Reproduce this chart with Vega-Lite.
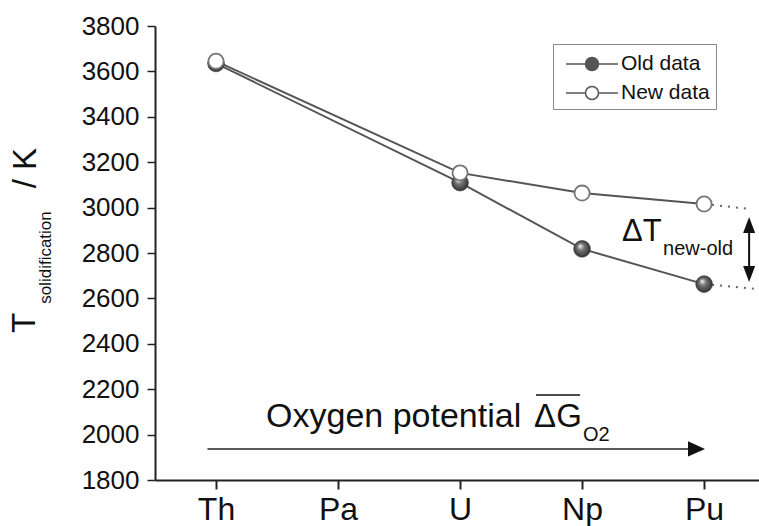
{
  "$schema": "https://vega.github.io/schema/vega-lite/v6.json",
  "width": 604,
  "height": 454,
  "autosize": {"type": "none"},
  "padding": {"left": 155, "top": 26, "right": 0, "bottom": 46},
  "background": "white",
  "config": {"view": {"stroke": null}, "font": "Liberation Sans", "text": {"font": "Liberation Sans", "color": "#111"}},
  "data": {"values": [
    {"element": "Th", "pos": 0, "series": "Old data", "T": 3635},
    {"element": "U", "pos": 2, "series": "Old data", "T": 3110},
    {"element": "Np", "pos": 3, "series": "Old data", "T": 2818},
    {"element": "Pu", "pos": 4, "series": "Old data", "T": 2663},
    {"element": "Th", "pos": 0, "series": "New data", "T": 3645},
    {"element": "U", "pos": 2, "series": "New data", "T": 3153},
    {"element": "Np", "pos": 3, "series": "New data", "T": 3064},
    {"element": "Pu", "pos": 4, "series": "New data", "T": 3016}
  ]},
  "layer": [
    {
      "data": {"values": [{"x": 4, "y": 3016, "x2": 4.377, "y2": 2994}, {"x": 4, "y": 2663, "x2": 4.45, "y2": 2641}]},
      "mark": {"type": "rule", "strokeWidth": 2, "strokeDash": [2, 6], "color": "#666"},
      "encoding": {
        "x": {"field": "x", "type": "quantitative"},
        "y": {"field": "y", "type": "quantitative"},
        "x2": {"field": "x2"},
        "y2": {"field": "y2"}
      }
    },
    {
      "mark": {"type": "line", "strokeWidth": 2},
      "encoding": {
        "x": {"field": "pos", "type": "quantitative",
          "scale": {"domain": [-0.5, 4.45], "nice": false, "zero": false},
          "axis": {"values": [0, 1, 2, 3, 4], "labelExpr": "['Th','Pa','U','Np','Pu'][datum.value]", "title": null, "grid": false,
            "domainColor": "#222", "domainWidth": 2, "tickColor": "#222", "tickWidth": 2, "tickSize": 9,
            "labelFontSize": 32, "labelColor": "#111", "labelPadding": 5, "labelFont": "Liberation Sans", "labelFlush": false, "labelOverlap": false}},
        "y": {"field": "T", "type": "quantitative",
          "scale": {"domain": [1800, 3800], "nice": false, "zero": false},
          "axis": {"values": [1800, 1900, 2000, 2100, 2200, 2300, 2400, 2500, 2600, 2700, 2800, 2900, 3000, 3100, 3200, 3300, 3400, 3500, 3600, 3700, 3800],
            "format": "d", "labelExpr": "datum.value % 200 === 0 ? datum.label : ''",
            "tickSize": {"condition": {"test": "datum.value % 200 === 0", "value": 8}, "value": 5},
            "title": null, "grid": false, "domainColor": "#222", "domainWidth": 2, "tickColor": "#222", "tickWidth": 1.5,
            "labelFontSize": 26, "labelColor": "#111", "labelPadding": 8, "labelFont": "Liberation Sans", "labelOverlap": false, "labelFlush": false}},
        "stroke": {"field": "series", "type": "nominal",
          "scale": {"domain": ["Old data", "New data"], "range": ["#555", "#555"]},
          "legend": {"title": null, "orient": "none", "legendX": 398, "legendY": 18,
            "symbolType": "M-2,0H-0.5M0.5,0H2M-0.5,0A0.5,0.5 0 1 1 0.5,0A0.5,0.5 0 1 1 -0.5,0Z",
            "symbolSize": 676, "symbolStrokeWidth": 1.5, "symbolOffset": 19,
            "labelFont": "Liberation Sans", "labelFontSize": 21, "labelColor": "#111", "labelOffset": 15,
            "padding": 6, "strokeColor": "#888", "rowPadding": 5,
            "encode": {"symbols": {"update": {
              "fill": [{"test": "datum.value === 'Old data'", "value": "#555"}, {"value": "white"}],
              "stroke": {"value": "#555"}, "opacity": {"value": 1}}}}}}
      }
    },
    {
      "transform": [{"filter": "datum.series === 'Old data'"}],
      "mark": {"type": "point", "filled": true, "size": 280, "opacity": 1, "stroke": "#333", "strokeWidth": 0.6,
        "fill": {"gradient": "radial", "x1": 0.38, "y1": 0.32, "r1": 0.02, "x2": 0.5, "y2": 0.5, "r2": 0.55,
          "stops": [{"offset": 0, "color": "#f2f2f2"}, {"offset": 0.35, "color": "#777777"}, {"offset": 1, "color": "#2a2a2a"}]}},
      "encoding": {
        "x": {"field": "pos", "type": "quantitative"},
        "y": {"field": "T", "type": "quantitative"}
      }
    },
    {
      "transform": [{"filter": "datum.series === 'New data'"}],
      "mark": {"type": "point", "filled": true, "size": 230, "opacity": 1, "fill": "white", "stroke": "#777", "strokeWidth": 1.8},
      "encoding": {
        "x": {"field": "pos", "type": "quantitative"},
        "y": {"field": "T", "type": "quantitative"}
      }
    },
    {
      "data": {"values": [{}]},
      "mark": {"type": "text", "text": "ΔT", "fontSize": 31, "align": "left", "baseline": "alphabetic"},
      "encoding": {"x": {"datum": 3.328, "type": "quantitative"}, "y": {"datum": 2853, "type": "quantitative"}}
    },
    {
      "data": {"values": [{}]},
      "mark": {"type": "text", "text": "new-old", "fontSize": 20, "align": "left", "baseline": "alphabetic"},
      "encoding": {"x": {"datum": 3.664, "type": "quantitative"}, "y": {"datum": 2791, "type": "quantitative"}}
    },
    {
      "data": {"values": [{}]},
      "mark": {"type": "rule", "strokeWidth": 2, "color": "#111"},
      "encoding": {"x": {"datum": 4.369, "type": "quantitative"}, "y": {"datum": 2923, "type": "quantitative"}, "y2": {"datum": 2707}}
    },
    {
      "data": {"values": [{"y": 2923, "dir": "up"}, {"y": 2707, "dir": "down"}]},
      "mark": {"type": "point", "filled": true, "size": 256, "color": "#111", "opacity": 1},
      "encoding": {
        "x": {"datum": 4.369, "type": "quantitative"},
        "y": {"field": "y", "type": "quantitative"},
        "shape": {"field": "dir", "type": "nominal", "scale": {"domain": ["up", "down"], "range": ["M0,-1L0.75,1L-0.75,1Z", "M0,1L0.75,-1L-0.75,-1Z"]}, "legend": null}
      }
    },
    {
      "data": {"values": [{}]},
      "mark": {"type": "text", "text": "Oxygen potential", "fontSize": 34, "align": "left", "baseline": "alphabetic"},
      "encoding": {"x": {"datum": 0.41, "type": "quantitative"}, "y": {"datum": 2034, "type": "quantitative"}}
    },
    {
      "data": {"values": [{}]},
      "mark": {"type": "text", "text": "ΔG", "fontSize": 33, "align": "left", "baseline": "alphabetic"},
      "encoding": {"x": {"datum": 2.607, "type": "quantitative"}, "y": {"datum": 2034, "type": "quantitative"}}
    },
    {
      "data": {"values": [{}]},
      "mark": {"type": "text", "text": "O2", "fontSize": 20, "align": "left", "baseline": "alphabetic"},
      "encoding": {"x": {"datum": 3.008, "type": "quantitative"}, "y": {"datum": 1972, "type": "quantitative"}}
    },
    {
      "data": {"values": [{}]},
      "mark": {"type": "rule", "strokeWidth": 1.5, "color": "#111"},
      "encoding": {"x": {"datum": 2.623, "type": "quantitative"}, "x2": {"datum": 2.984}, "y": {"datum": 2174, "type": "quantitative"}}
    },
    {
      "data": {"values": [{}]},
      "mark": {"type": "rule", "strokeWidth": 1.5, "color": "#222"},
      "encoding": {"x": {"datum": -0.07, "type": "quantitative"}, "x2": {"datum": 3.94}, "y": {"datum": 1937, "type": "quantitative"}}
    },
    {
      "data": {"values": [{}]},
      "mark": {"type": "point", "filled": true, "size": 289, "color": "#111", "opacity": 1, "shape": "M1,0L-1,-0.9L-1,0.9Z"},
      "encoding": {"x": {"datum": 3.938, "type": "quantitative"}, "y": {"datum": 1937, "type": "quantitative"}}
    },
    {
      "data": {"values": [{}]},
      "mark": {"type": "text", "text": "T", "fontSize": 33, "angle": 270, "align": "center", "baseline": "middle"},
      "encoding": {"x": {"datum": -1.566, "type": "quantitative"}, "y": {"datum": 2492, "type": "quantitative"}}
    },
    {
      "data": {"values": [{}]},
      "mark": {"type": "text", "text": "solidification", "fontSize": 17, "angle": 270, "align": "center", "baseline": "middle"},
      "encoding": {"x": {"datum": -1.393, "type": "quantitative"}, "y": {"datum": 2780, "type": "quantitative"}}
    },
    {
      "data": {"values": [{}]},
      "mark": {"type": "text", "text": "/ K", "fontSize": 33, "angle": 270, "align": "center", "baseline": "middle"},
      "encoding": {"x": {"datum": -1.557, "type": "quantitative"}, "y": {"datum": 3174, "type": "quantitative"}}
    }
  ]
}
